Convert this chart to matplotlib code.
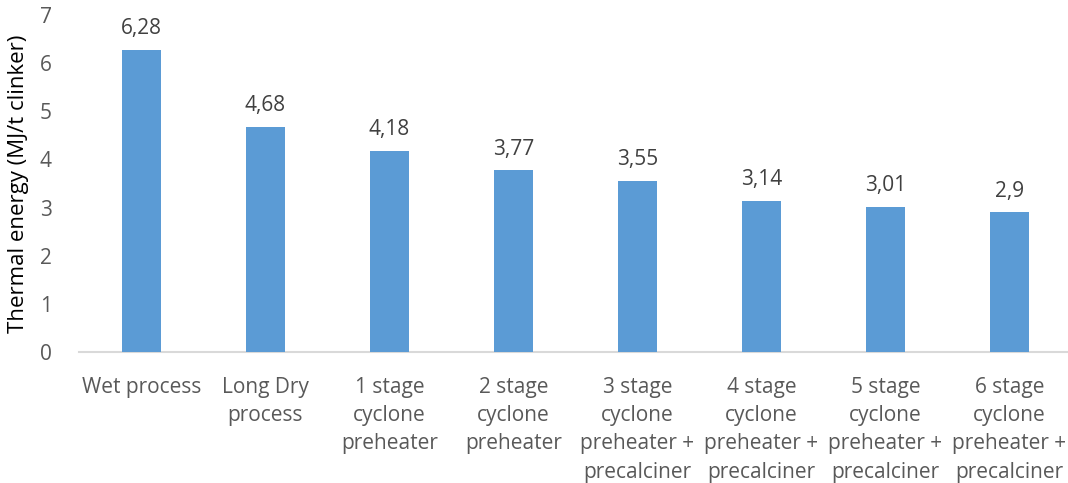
import numpy as np
import matplotlib.pyplot as plt

categories = [
    "Wet process",
    "Long Dry\nprocess",
    "1 stage\ncyclone\npreheater",
    "2 stage\ncyclone\npreheater",
    "3 stage\ncyclone\npreheater +\nprecalciner",
    "4 stage\ncyclone\npreheater +\nprecalciner",
    "5 stage\ncyclone\npreheater +\nprecalciner",
    "6 stage\ncyclone\npreheater +\nprecalciner",
]
values = [6.28, 4.68, 4.18, 3.77, 3.55, 3.14, 3.01, 2.9]
value_labels = ["6,28", "4,68", "4,18", "3,77", "3,55", "3,14", "3,01", "2,9"]

bar_color = "#5B9BD5"
text_grey = "#595959"
label_dark = "#404040"

plt.rcParams["font.family"] = ["Open Sans", "DejaVu Sans"]

fig = plt.figure(figsize=(10.68, 4.83), dpi=100)
ax = fig.add_axes([0.0744, 0.2712, 0.9289, 0.6978])

x = np.arange(len(categories))
bars = ax.bar(x, values, width=0.315, color=bar_color, zorder=3)

for bar, lab in zip(bars, value_labels):
    ax.text(bar.get_x() + bar.get_width() / 2, bar.get_height() + 0.22, lab,
            ha="center", va="bottom", fontsize=15, color=label_dark)

ax.set_xlim(-0.5, len(categories) - 0.5)
ax.set_ylim(0, 7)
ax.set_yticks(range(0, 8))
ax.set_xticks(x, categories)
ax.tick_params(axis="x", length=0, pad=18, labelsize=15, labelcolor=text_grey)
ax.tick_params(axis="y", length=0, pad=20, labelsize=15, labelcolor=text_grey)
for lab in ax.get_xticklabels():
    lab.set_linespacing(1.45)

ax.set_ylabel("Thermal energy (MJ/t clinker)", fontsize=16, color="black", labelpad=8)

for s in ["top", "left", "right"]:
    ax.spines[s].set_visible(False)
ax.spines["bottom"].set_color("#D9D9D9")
ax.spines["bottom"].set_linewidth(1.5)

fig.savefig("out.png", dpi=100)
